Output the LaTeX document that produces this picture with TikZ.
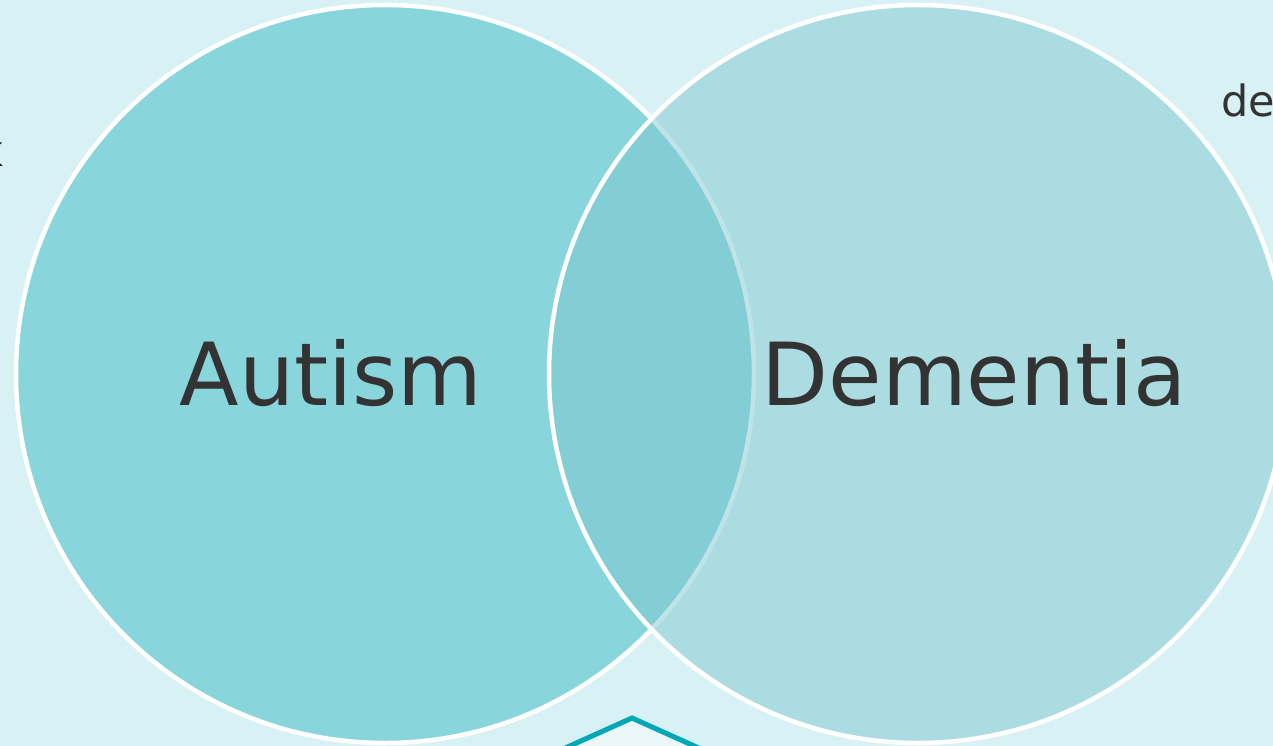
\documentclass[tikz,border=0pt]{standalone}
\usepackage{fontspec}
\setmainfont{DejaVu Sans}
\definecolor{bgc}{HTML}{D8F1F4}
\definecolor{leftc}{HTML}{88D5DC}
\definecolor{rightc}{HTML}{80C9D0}
\definecolor{txtc}{HTML}{333333}
\definecolor{hexc}{HTML}{00A8B5}
\definecolor{hexfill}{HTML}{EAF7F9}
\begin{document}
\begin{tikzpicture}[x=1pt,y=-1pt,
  venn/.style={circle, minimum size=738pt, inner sep=0pt, draw=white, line width=4.5pt},
  bigtxt/.style={font=\fontsize{87}{100}\selectfont, text=txtc, inner sep=0pt, anchor=base},
  smalltxt/.style={font=\fontsize{43}{50}\selectfont, inner sep=0pt, anchor=base}]
\useasboundingbox (0,0) rectangle (1273,746);
\clip (0,0) rectangle (1273,746);
\fill[bgc] (0,0) rectangle (1273,746);
\node[smalltxt, text=black, anchor=base east] (k) at (4,167) {k};
\node[smalltxt, text=txtc, anchor=base west] (de) at (1221,117) {de};
\node[venn, fill=leftc] (autc) at (385,374) {};
\node[venn, fill=rightc, fill opacity=0.5] (demc) at (918,374) {};
\node[bigtxt] (aut) at (331,405) {Autism};
\node[bigtxt] (dem) at (974.5,405) {Dementia};
\coordinate (h1) at (632,718);
\coordinate (h2) at (712,754);
\coordinate (h3) at (552,754);
\draw[hexc, fill=hexfill, line width=5pt, line join=miter] (h3) -- (h1) -- (h2);
\end{tikzpicture}
\end{document}
